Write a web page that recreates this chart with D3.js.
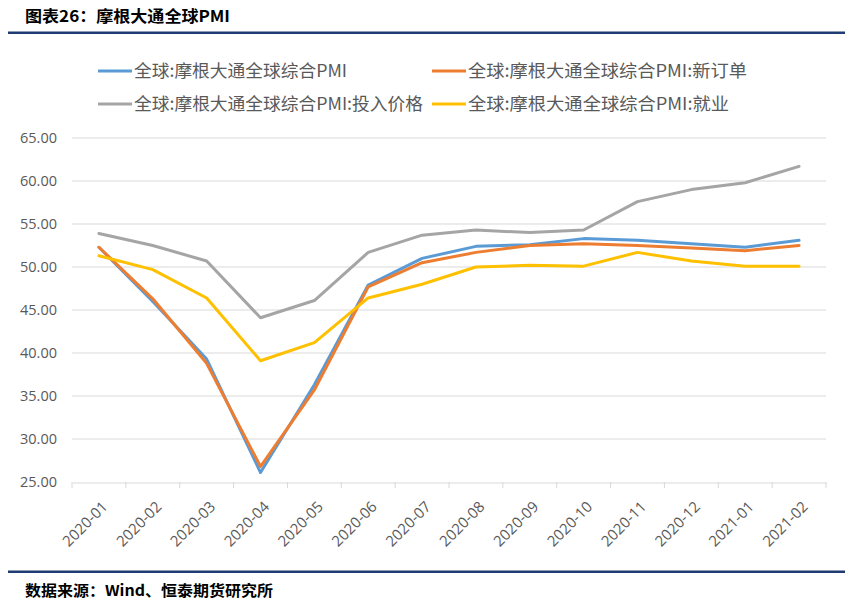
<!DOCTYPE html>
<html><head><meta charset="utf-8">
<script src="https://cdn.jsdelivr.net/npm/d3@7"></script>
<style>body{margin:0;background:#fff}svg{display:block}</style>
</head><body><svg id="c" width="853" height="603"></svg>
<script>
const categories = ["2020-01","2020-02","2020-03","2020-04","2020-05","2020-06","2020-07","2020-08","2020-09","2020-10","2020-11","2020-12","2021-01","2021-02"];
const composite = [52.3,46.0,39.3,26.1,36.3,47.9,51.0,52.4,52.6,53.3,53.1,52.7,52.3,53.1];
const newOrders = [52.3,46.3,38.8,26.8,35.7,47.7,50.5,51.7,52.5,52.7,52.5,52.2,51.9,52.5];
const inputPrices = [53.9,52.5,50.7,44.1,46.1,51.7,53.7,54.3,54.0,54.3,57.6,59.0,59.8,61.7];
const employment = [51.3,49.7,46.4,39.1,41.2,46.4,48.0,50.0,50.2,50.1,51.7,50.7,50.1,50.1];
const yTicks = [25,30,35,40,45,50,55,60,65];
const seriesNames = ["全球:摩根大通全球综合PMI","全球:摩根大通全球综合PMI:新订单","全球:摩根大通全球综合PMI:投入价格","全球:摩根大通全球综合PMI:就业"];
const colors = ["#5B9BD5","#ED7D31","#A5A5A5","#FFC000"];
const series = [composite,newOrders,inputPrices,employment];

const svg = d3.select("#c");
const cjk = "'Noto Sans CJK SC','Noto Sans',sans-serif";
// header
svg.append("text").attr("x",25).attr("y",22).attr("font-family",cjk).attr("font-weight","bold")
  .attr("font-size",16).attr("fill","#000").attr("textLength",205).attr("lengthAdjust","spacingAndGlyphs")
  .text("图表26：摩根大通全球PMI");
svg.append("rect").attr("x",8).attr("y",31.5).attr("width",837).attr("height",2.5).attr("fill","#1F3B73");
svg.append("rect").attr("x",8).attr("y",570.5).attr("width",837).attr("height",2.5).attr("fill","#1F3B73");
svg.append("text").attr("x",25).attr("y",596).attr("font-family",cjk).attr("font-weight","bold")
  .attr("font-size",15).attr("fill","#000").attr("textLength",248).attr("lengthAdjust","spacingAndGlyphs")
  .text("数据来源：Wind、恒泰期货研究所");

const x = d3.scaleBand().domain(categories).range([72,826]);
const y = d3.scaleLinear().domain([25,65]).range([482,138]);

// gridlines
svg.append("g").selectAll("line").data(yTicks.slice(1)).join("line")
  .attr("x1",72).attr("x2",826).attr("y1",d=>y(d)).attr("y2",d=>y(d))
  .attr("stroke","#D9D9D9").attr("stroke-width",1);

// y labels
svg.append("g").selectAll("text").data(yTicks).join("text")
  .attr("x",57).attr("y",d=>y(d)).attr("dy","0.35em").attr("text-anchor","end")
  .attr("font-family","'Open Sans',sans-serif").attr("font-size",14.5).attr("fill","#595959")
  .text(d=>d.toFixed(2));

// x axis
const xa = svg.append("g").attr("transform","translate(0,482.5)")
  .call(d3.axisBottom(x).tickSize(0).tickFormat(""));
xa.select(".domain").attr("stroke","#D9D9D9").attr("stroke-width",1);
const bounds = categories.map(c=>x(c)).concat([826]);
svg.append("g").selectAll("line").data(bounds).join("line")
  .attr("x1",d=>d).attr("x2",d=>d).attr("y1",482).attr("y2",488)
  .attr("stroke","#D9D9D9");
svg.append("g").selectAll("text").data(categories).join("text")
  .attr("transform",c=>`translate(${x(c)+x.bandwidth()/2+6},504) rotate(-45)`)
  .attr("text-anchor","end").attr("dy","0.35em")
  .attr("font-family","'Open Sans',sans-serif").attr("font-size",15).attr("fill","#595959")
  .text(c=>c);

// lines
const line = d3.line().x((d,i)=>x(categories[i])+x.bandwidth()/2).y(d=>y(d));
series.forEach((s,i)=>{
  svg.append("path").datum(s).attr("d",line).attr("fill","none")
    .attr("stroke",colors[i]).attr("stroke-width",3).attr("stroke-linejoin","round").attr("stroke-linecap","round");
});

// legend
const legPos = [[98,71],[432,71],[98,104],[432,104]];
const legW = [213,279,289,261];
seriesNames.forEach((n,i)=>{
  const [lx,ly]=legPos[i];
  svg.append("line").attr("x1",lx).attr("x2",lx+34).attr("y1",ly).attr("y2",ly)
    .attr("stroke",colors[i]).attr("stroke-width",3);
  svg.append("text").attr("x",lx+36).attr("y",ly).attr("dy","0.36em")
    .attr("font-family",cjk).attr("font-size",17.5).attr("fill","#595959")
    .attr("textLength",legW[i]).attr("lengthAdjust","spacingAndGlyphs").text(n);
});
</script></body></html>
